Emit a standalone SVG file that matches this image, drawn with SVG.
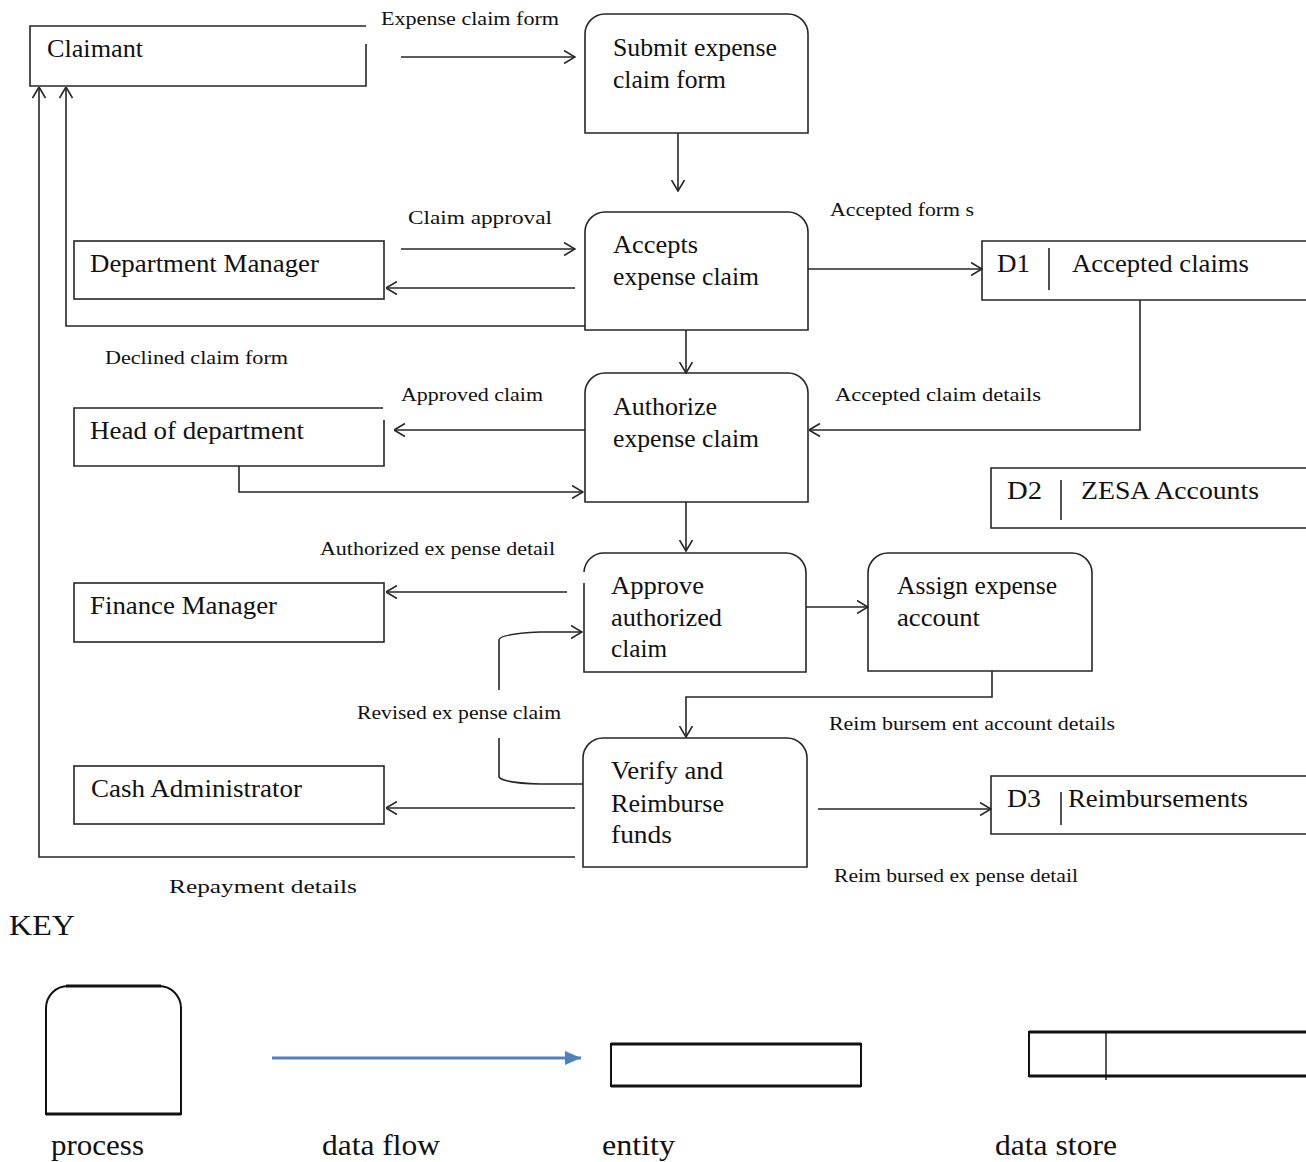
<svg xmlns="http://www.w3.org/2000/svg" width="1306" height="1162" viewBox="0 0 1306 1162">
  <style>
    .shape { fill: #ffffff; stroke: #262626; stroke-width: 1.6; }
    .edge { fill: none; stroke: #262626; stroke-width: 1.6; }
    .flow { fill: none; stroke: #262626; stroke-width: 1.6; }
    .arrow { marker-end: url(#open); }
    .name { font-family: "Liberation Serif", "Times New Roman", serif; font-size: 25px; fill: #111; }
    .tag { font-family: "Liberation Serif", "Times New Roman", serif; font-size: 19px; fill: #111; }
    .key { font-family: "Liberation Serif", "Times New Roman", serif; font-size: 29px; fill: #111; }
  </style>
  <defs>
    <marker id="open" viewBox="0 0 12 14" refX="11.5" refY="7" markerWidth="12" markerHeight="14" markerUnits="userSpaceOnUse" orient="auto">
      <path d="M0.5,0.5 L11.5,7 L0.5,13.5" fill="none" stroke="#262626" stroke-width="1.6"/>
    </marker>
    <marker id="solid" viewBox="0 0 16 14" refX="16" refY="7" markerWidth="16" markerHeight="14" markerUnits="userSpaceOnUse" orient="auto">
      <path d="M0,0 L16,7 L0,14 Z" fill="#4f81bd"/>
    </marker>
  </defs>

  <rect width="1306" height="1162" fill="#ffffff"/>

  <!-- external entities -->
  <g id="claimant">
    <path class="edge" d="M366,26 L30,26 L30,86 L366,86 L366,44"/>
    <text class="name" x="47" y="57" textLength="96" lengthAdjust="spacingAndGlyphs">Claimant</text>
  </g>
  <g id="department-manager">
    <rect class="shape" x="74" y="241" width="310" height="58"/>
    <text class="name" x="90" y="272" textLength="229" lengthAdjust="spacingAndGlyphs">Department Manager</text>
  </g>
  <g id="head-of-department">
    <path class="edge" d="M383,408 L74,408 L74,466 L384,466 L384,420"/>
    <text class="name" x="90" y="439" textLength="214" lengthAdjust="spacingAndGlyphs">Head of department</text>
  </g>
  <g id="finance-manager">
    <rect class="shape" x="74" y="583" width="310" height="59"/>
    <text class="name" x="90" y="614" textLength="187" lengthAdjust="spacingAndGlyphs">Finance Manager</text>
  </g>
  <g id="cash-administrator">
    <rect class="shape" x="74" y="766" width="310" height="58"/>
    <text class="name" x="91" y="797" textLength="211" lengthAdjust="spacingAndGlyphs">Cash Administrator</text>
  </g>

  <!-- processes -->
  <g id="submit-claim">
    <path class="shape" d="M585,133 L585,34 A20,20 0 0 1 605,14 L788,14 A20,20 0 0 1 808,34 L808,133 Z"/>
    <text class="name" x="613" y="56" textLength="164" lengthAdjust="spacingAndGlyphs">Submit expense</text>
    <text class="name" x="613" y="88" textLength="113" lengthAdjust="spacingAndGlyphs">claim form</text>
  </g>
  <g id="accept-claim">
    <path class="shape" d="M585,330 L585,232 A20,20 0 0 1 605,212 L788,212 A20,20 0 0 1 808,232 L808,330 Z"/>
    <text class="name" x="613" y="253" textLength="85" lengthAdjust="spacingAndGlyphs">Accepts</text>
    <text class="name" x="613" y="285" textLength="146" lengthAdjust="spacingAndGlyphs">expense claim</text>
  </g>
  <g id="authorize-claim">
    <path class="shape" d="M585,502 L585,393 A20,20 0 0 1 605,373 L788,373 A20,20 0 0 1 808,393 L808,502 Z"/>
    <text class="name" x="613" y="415" textLength="104" lengthAdjust="spacingAndGlyphs">Authorize</text>
    <text class="name" x="613" y="447" textLength="146" lengthAdjust="spacingAndGlyphs">expense claim</text>
  </g>
  <g id="approve-claim">
    <rect x="584" y="553" width="222" height="119" rx="0" fill="#ffffff" stroke="none"/>
    <path class="edge" d="M584,583 L584,672 L806,672 L806,573 A20,20 0 0 0 786,553 L604,553 A20,20 0 0 0 584,572"/>
    <text class="name" x="611" y="594" textLength="93" lengthAdjust="spacingAndGlyphs">Approve</text>
    <text class="name" x="611" y="626" textLength="111" lengthAdjust="spacingAndGlyphs">authorized</text>
    <text class="name" x="611" y="657" textLength="56" lengthAdjust="spacingAndGlyphs">claim</text>
  </g>
  <g id="assign-account">
    <path class="shape" d="M868,671 L868,573 A20,20 0 0 1 888,553 L1072,553 A20,20 0 0 1 1092,573 L1092,671 Z"/>
    <text class="name" x="897" y="594" textLength="160" lengthAdjust="spacingAndGlyphs">Assign expense</text>
    <text class="name" x="897" y="626" textLength="83" lengthAdjust="spacingAndGlyphs">account</text>
  </g>
  <g id="verify-reimburse">
    <path class="shape" d="M583,867 L583,758 A20,20 0 0 1 603,738 L787,738 A20,20 0 0 1 807,758 L807,867 Z"/>
    <text class="name" x="611" y="779" textLength="112" lengthAdjust="spacingAndGlyphs">Verify and</text>
    <text class="name" x="611" y="812" textLength="113" lengthAdjust="spacingAndGlyphs">Reimburse</text>
    <text class="name" x="611" y="843" textLength="61" lengthAdjust="spacingAndGlyphs">funds</text>
  </g>

  <!-- data stores -->
  <g id="d1-accepted-claims">
    <path class="edge" d="M1306,241 L982,241 L982,300 L1306,300"/>
    <path class="edge" d="M1049,248 L1049,290"/>
    <text class="name" x="997" y="272" textLength="33" lengthAdjust="spacingAndGlyphs">D1</text>
    <text class="name" x="1072" y="272" textLength="177" lengthAdjust="spacingAndGlyphs">Accepted claims</text>
  </g>
  <g id="d2-zesa-accounts">
    <path class="edge" d="M1306,468 L991,468 L991,528 L1306,528"/>
    <path class="edge" d="M1061,480 L1061,520"/>
    <text class="name" x="1007" y="499" textLength="35" lengthAdjust="spacingAndGlyphs">D2</text>
    <text class="name" x="1081" y="499" textLength="178" lengthAdjust="spacingAndGlyphs">ZESA Accounts</text>
  </g>
  <g id="d3-reimbursements">
    <path class="edge" d="M1306,776 L991,776 L991,834 L1306,834"/>
    <path class="edge" d="M1061,792 L1061,825"/>
    <text class="name" x="1007" y="807" textLength="34" lengthAdjust="spacingAndGlyphs">D3</text>
    <text class="name" x="1068" y="807" textLength="180" lengthAdjust="spacingAndGlyphs">Reimbursements</text>
  </g>

  <!-- data flows -->
  <g id="flows">
    <path class="flow arrow" d="M401,57 L575,57"/>
    <path class="flow arrow" d="M678,133 L678,191"/>
    <path class="flow arrow" d="M401,249 L575,249"/>
    <path class="flow arrow" d="M575,288 L386,288"/>
    <path class="flow arrow" d="M585,326 L66,326 L66,87"/>
    <path class="flow arrow" d="M808,269 L982,269"/>
    <path class="flow arrow" d="M686,330 L686,373"/>
    <path class="flow arrow" d="M1140,300 L1140,430 L809,430"/>
    <path class="flow arrow" d="M585,430 L394,430"/>
    <path class="flow arrow" d="M239,466 L239,492 L583,492"/>
    <path class="flow arrow" d="M686,502 L686,551"/>
    <path class="flow arrow" d="M567,592 L386,592"/>
    <path class="flow arrow" d="M499,690 L499,640 Q499,634 540,632 L582,632"/>
    <path class="flow" d="M499,738 L499,777 Q503,783 540,784 L583,784"/>
    <path class="flow arrow" d="M806,607 L868,607"/>
    <path class="flow arrow" d="M992,671 L992,697 L686,697 L686,737"/>
    <path class="flow arrow" d="M575,808 L386,808"/>
    <path class="flow arrow" d="M818,809 L991,809"/>
    <path class="flow arrow" d="M575,857 L39,857 L39,87"/>

    <text class="tag" x="381" y="25" textLength="178" lengthAdjust="spacingAndGlyphs">Expense claim form</text>
    <text class="tag" x="408" y="224" textLength="144" lengthAdjust="spacingAndGlyphs">Claim approval</text>
    <text class="tag" x="830" y="216" textLength="144" lengthAdjust="spacingAndGlyphs">Accepted form s</text>
    <text class="tag" x="105" y="364" textLength="183" lengthAdjust="spacingAndGlyphs">Declined claim form</text>
    <text class="tag" x="401" y="401" textLength="142" lengthAdjust="spacingAndGlyphs">Approved claim</text>
    <text class="tag" x="835" y="401" textLength="206" lengthAdjust="spacingAndGlyphs">Accepted claim  details</text>
    <text class="tag" x="320" y="555" textLength="235" lengthAdjust="spacingAndGlyphs">Authorized ex pense detail</text>
    <text class="tag" x="357" y="719" textLength="204" lengthAdjust="spacingAndGlyphs">Revised ex pense claim</text>
    <text class="tag" x="829" y="730" textLength="286" lengthAdjust="spacingAndGlyphs">Reim bursem ent account details</text>
    <text class="tag" x="834" y="882" textLength="244" lengthAdjust="spacingAndGlyphs">Reim bursed ex pense detail</text>
    <text class="tag" x="169" y="893" font-size="21" textLength="188" lengthAdjust="spacingAndGlyphs">Repayment details</text>
  </g>

  <!-- legend -->
  <g id="legend">
    <text class="key" x="9" y="935" textLength="66" lengthAdjust="spacingAndGlyphs">KEY</text>
    <path d="M46,1114 L46,1008 A22,22 0 0 1 68,986 L159,986 A22,22 0 0 1 181,1008 L181,1114 Z" fill="#ffffff" stroke="#111" stroke-width="2"/>
    <path d="M66,986 L161,986 M46,1114 L181,1114" stroke="#111" stroke-width="3.2"/>
    <path d="M272,1058 L581,1058" stroke="#4f81bd" stroke-width="3" fill="none" marker-end="url(#solid)"/>
    <rect x="611" y="1044" width="250" height="42" fill="#ffffff" stroke="#111" stroke-width="2"/>
    <path d="M611,1044 L861,1044 M611,1086 L861,1086" stroke="#111" stroke-width="3.2"/>
    <path d="M1306,1032 L1029,1032 L1029,1076 L1306,1076" fill="none" stroke="#111" stroke-width="2"/>
    <path d="M1029,1032 L1306,1032 M1029,1076 L1306,1076" stroke="#111" stroke-width="3.2"/>
    <path d="M1106,1032 L1106,1080" stroke="#111" stroke-width="1.4"/>
    <text class="key" x="51" y="1155" textLength="93" lengthAdjust="spacingAndGlyphs">process</text>
    <text class="key" x="322" y="1155" textLength="118" lengthAdjust="spacingAndGlyphs">data flow</text>
    <text class="key" x="602" y="1155" textLength="73" lengthAdjust="spacingAndGlyphs">entity</text>
    <text class="key" x="995" y="1155" textLength="122" lengthAdjust="spacingAndGlyphs">data store</text>
  </g>
</svg>
